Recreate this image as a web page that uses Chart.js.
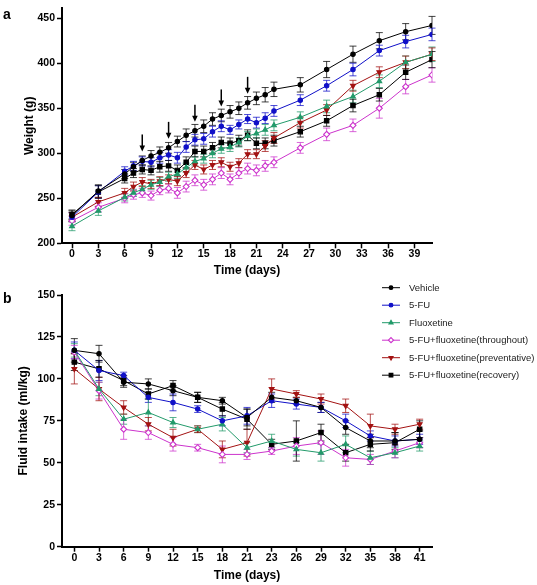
<!DOCTYPE html>
<html lang="en">
<head>
  <meta charset="UTF-8" />
  <title>Weight and fluid intake</title>
  <script src="https://cdn.jsdelivr.net/npm/chart.js"></script>
  <style>
    body {
      margin: 0;
      background: #fff;
    }

    .wrap {
      position: relative;
      width: 537px;
      height: 585px;
    }

    #weightChart { position: absolute; left: 0; top: 0; }
    #fluidChart { position: absolute; left: 0; top: 270px; }
  </style>
</head>
<body>

  <div class="wrap">
    <canvas id="weightChart" width="537" height="280"></canvas>
    <canvas id="fluidChart" width="537" height="315"></canvas>
  </div>

  <script>
    // ---- panel a: body weight (g) ----
    const weightDays = [0, 3, 6, 7, 8, 9, 10, 11, 12, 13, 14, 15, 16, 17, 18, 19, 20, 21, 22, 23, 26, 29, 32, 35, 38, 41];
    const weightDayTicks = [0, 3, 6, 9, 12, 15, 18, 21, 24, 27, 30, 33, 36, 39];
    const weightTicks = [200, 250, 300, 350, 400, 450];
    const arrowDays = [8, 11, 14, 17, 20];

    const weightVehicle      = [231, 258, 277, 285, 292, 297, 301, 306, 313, 320, 325, 330, 338, 342, 346, 350, 356, 361, 365, 371, 376, 393, 410, 425, 435, 442];
    const weightFU           = [229, 257, 280, 286, 291, 290, 295, 298, 295, 307, 315, 316, 324, 330, 326, 332, 338, 334, 339, 347, 359, 375, 393, 414, 424, 432];
    const weightFluox        = [219, 236, 251, 256, 260, 265, 268, 274, 277, 284, 291, 294, 300, 305, 307, 312, 319, 322, 326, 331, 340, 352, 363, 380, 401, 410];
    const weightThroughout   = [225, 240, 250, 254, 256, 253, 259, 261, 256, 263, 270, 265, 271, 278, 271, 278, 283, 281, 286, 290, 306, 321, 331, 350, 374, 387];
    const weightPreventative = [229, 246, 256, 263, 268, 266, 269, 271, 269, 278, 287, 282, 287, 290, 285, 289, 299, 299, 308, 317, 334, 348, 375, 390, 401, 410];
    const weightRecovery     = [232, 257, 272, 278, 282, 281, 285, 286, 281, 290, 302, 302, 306, 312, 311, 314, 320, 311, 311, 314, 324, 336, 353, 365, 390, 404];

    const weightVehicleErr      = [5, 7, 5, 5, 5, 6, 6, 6, 6, 7, 7, 7, 7, 7, 7, 7, 7, 7, 8, 8, 8, 9, 9, 9, 9, 10];
    const weightFUErr           = [5, 7, 5, 5, 5, 5, 6, 6, 6, 6, 6, 6, 6, 6, 5, 5, 5, 6, 6, 6, 6, 6, 7, 6, 7, 7];
    const weightFluoxErr        = [5, 5, 4, 4, 4, 5, 5, 5, 5, 5, 5, 5, 5, 5, 5, 5, 5, 5, 6, 6, 6, 7, 7, 7, 7, 8];
    const weightThroughoutErr   = [5, 5, 5, 5, 5, 5, 5, 5, 6, 6, 6, 6, 6, 6, 6, 6, 6, 6, 6, 6, 6, 7, 7, 11, 8, 8];
    const weightPreventativeErr = [5, 5, 5, 5, 5, 5, 5, 5, 5, 5, 5, 5, 5, 5, 5, 5, 5, 5, 6, 6, 6, 6, 6, 6, 7, 7];
    const weightRecoveryErr     = [5, 7, 5, 5, 5, 5, 6, 6, 6, 6, 6, 6, 6, 6, 6, 6, 6, 6, 6, 6, 6, 6, 7, 7, 8, 9];

    // ---- panel b: fluid intake (ml/kg) ----
    const fluidDays = ['0', '3', '6', '9', '12', '15', '18', '21', '23', '26', '29', '32', '35', '38', '41'];

    const fluidVehicle      = [117, 115, 98, 97, 93, 89, 87, 77, 89, 87, 83, 71, 63, 63, 64];
    const fluidFU           = [117, 105, 102, 89, 86, 82, 75, 78, 87, 85, 83, 75, 66, 63, 64];
    const fluidFluox        = [117, 94, 76, 80, 74, 70, 73, 59, 63, 58, 56, 61, 53, 56, 60];
    const fluidThroughout   = [116, 93, 70, 68, 61, 59, 55, 55, 57, 60, 62, 53, 52, 57, 62];
    const fluidPreventative = [106, 94, 83, 73, 65, 70, 58, 62, 94, 91, 88, 84, 72, 70, 73];
    const fluidRecovery     = [110, 106, 99, 91, 96, 89, 82, 76, 61, 63, 68, 56, 61, 62, 70];

    const fluidVehicleErr      = [7, 5, 3, 3, 3, 3, 2, 5, 3, 2, 3, 4, 4, 5, 5];
    const fluidFUErr           = [5, 6, 2, 3, 5, 2, 3, 5, 4, 3, 3, 4, 3, 3, 3];
    const fluidFluoxErr        = [4, 4, 3, 8, 3, 2, 4, 3, 4, 4, 5, 5, 4, 3, 3];
    const fluidThroughoutErr   = [4, 5, 6, 4, 4, 2, 5, 3, 2, 5, 7, 5, 3, 4, 3];
    const fluidPreventativeErr = [9, 7, 4, 4, 5, 2, 5, 8, 6, 2, 3, 4, 7, 3, 3];
    const fluidRecoveryErr     = [5, 5, 3, 3, 3, 3, 4, 6, 3, 12, 5, 5, 4, 6, 5];

    const groups = [
      { label: 'Vehicle', color: '#000000', style: 'circle', radius: 2.2, rot: 0, fill: '#000000' },
      { label: '5-FU', color: '#1010c8', style: 'circle', radius: 2.2, rot: 0, fill: '#1010c8' },
      { label: 'Fluoxetine', color: '#229a6a', style: 'triangle', radius: 2.8, rot: 0, fill: '#229a6a' },
      { label: '5-FU+fluoxetine(throughout)', color: '#cc33cc', style: 'rectRot', radius: 3, rot: 0, fill: '#ffffff' },
      { label: '5-FU+fluoxetine(preventative)', color: '#a31212', style: 'triangle', radius: 2.8, rot: 180, fill: '#a31212' },
      { label: '5-FU+fluoxetine(recovery)', color: '#000000', style: 'rect', radius: 3.1, rot: 0, fill: '#000000' }
    ];

    const FONT = "'Liberation Sans', Arial, sans-serif";

    function makeDataset(g, data, vals, errs) {
      return {
        label: g.label,
        data: data,
        vals: vals,
        errs: errs,
        borderColor: g.color,
        backgroundColor: g.fill,
        borderWidth: 1,
        tension: 0,
        pointStyle: g.style,
        pointRadius: g.radius,
        pointRotation: g.rot,
        pointBackgroundColor: g.fill,
        pointBorderColor: g.color,
        pointBorderWidth: 1.1
      };
    }

    // vertical SEM bars with caps
    const errorBars = {
      id: 'errorBars',
      beforeDatasetsDraw(chart) {
        const ctx = chart.ctx;
        const ys = chart.scales.y;
        chart.data.datasets.forEach((ds, i) => {
          const meta = chart.getDatasetMeta(i);
          ctx.save();
          ctx.strokeStyle = ds.borderColor;
          ctx.globalAlpha = 0.75;
          ctx.lineWidth = 1;
          meta.data.forEach((pt, j) => {
            const top = ys.getPixelForValue(ds.vals[j] + ds.errs[j]);
            const bot = ys.getPixelForValue(ds.vals[j] - ds.errs[j]);
            ctx.beginPath();
            ctx.moveTo(pt.x, top); ctx.lineTo(pt.x, bot);
            ctx.moveTo(pt.x - 3.5, top); ctx.lineTo(pt.x + 3.5, top);
            ctx.moveTo(pt.x - 3.5, bot); ctx.lineTo(pt.x + 3.5, bot);
            ctx.stroke();
          });
          ctx.restore();
        });
      }
    };

    function panelLetter(letter, y) {
      return {
        id: 'panel' + letter,
        afterDraw(chart) {
          const ctx = chart.ctx;
          ctx.save();
          ctx.fillStyle = '#000';
          ctx.font = 'bold 14px ' + FONT;
          ctx.textBaseline = 'alphabetic';
          ctx.fillText(letter, 3, y);
          ctx.restore();
        }
      };
    }

    // arrows above the vehicle curve
    const arrows = {
      id: 'arrows',
      afterDatasetsDraw(chart) {
        const ctx = chart.ctx;
        const xs = chart.scales.x, ys = chart.scales.y;
        ctx.save();
        ctx.strokeStyle = '#000';
        ctx.fillStyle = '#000';
        ctx.lineWidth = 1.5;
        arrowDays.forEach(d => {
          const idx = weightDays.indexOf(d);
          const x = xs.getPixelForValue(d);
          const tip = ys.getPixelForValue(weightVehicle[idx]) - 9;
          ctx.beginPath();
          ctx.moveTo(x, tip - 17);
          ctx.lineTo(x, tip - 5);
          ctx.stroke();
          ctx.beginPath();
          ctx.moveTo(x - 2.8, tip - 6);
          ctx.lineTo(x + 2.8, tip - 6);
          ctx.lineTo(x, tip);
          ctx.closePath();
          ctx.fill();
        });
        ctx.restore();
      }
    };

    const drawPoint = Chart.helpers && Chart.helpers.drawPoint;

    const legendBox = {
      id: 'legendBox',
      afterDraw(chart) {
        const ctx = chart.ctx;
        ctx.save();
        groups.forEach((g, i) => {
          const y = 17.7 + i * 17.5;
          ctx.strokeStyle = g.color;
          ctx.lineWidth = 1;
          ctx.beginPath();
          ctx.moveTo(382, y);
          ctx.lineTo(400, y);
          ctx.stroke();
          ctx.fillStyle = g.fill;
          ctx.lineWidth = 1.1;
          if (drawPoint) {
            drawPoint(ctx, { pointStyle: g.style, radius: g.radius * 0.85, rotation: g.rot, borderWidth: 1.1 }, 391, y);
          }
          ctx.fillStyle = '#222';
          ctx.font = '9.5px ' + FONT;
          ctx.textBaseline = 'middle';
          ctx.fillText(g.label, 409, y + 0.5);
        });
        ctx.restore();
      }
    };

    function axisStyle(extra) {
      return Object.assign({
        grid: { drawOnChartArea: false, drawTicks: true, tickLength: 5, tickColor: '#000', tickWidth: 1.5 },
        border: { color: '#000', width: 2 }
      }, extra);
    }

    const tickFont = { family: FONT, size: 10.5, weight: 'bold' };
    const titleFont = { family: FONT, size: 12, weight: 'bold' };

    // ---- chart a ----
    const weightSeries = [
      [weightVehicle, weightVehicleErr],
      [weightFU, weightFUErr],
      [weightFluox, weightFluoxErr],
      [weightThroughout, weightThroughoutErr],
      [weightPreventative, weightPreventativeErr],
      [weightRecovery, weightRecoveryErr]
    ];

    new Chart(document.getElementById('weightChart'), {
      type: 'line',
      data: {
        datasets: weightSeries.map((s, i) =>
          makeDataset(groups[i], weightDays.map((d, j) => ({ x: d, y: s[0][j] })), s[0], s[1]))
      },
      options: {
        responsive: false,
        animation: false,
        layout: { padding: { top: 3, right: 105, left: 0, bottom: 0 } },
        plugins: { legend: { display: false }, tooltip: { enabled: false } },
        scales: {
          x: axisStyle({
            type: 'linear',
            min: -1.14,
            max: 41,
            afterBuildTicks: s => { s.ticks = weightDayTicks.map(v => ({ value: v })); },
            afterFit: s => { s.height = 36.7; },
            ticks: { color: '#000', font: tickFont, padding: 0, autoSkip: false, maxRotation: 0 },
            title: { display: true, text: 'Time (days)', color: '#000', font: titleFont, padding: { top: 0, bottom: 2 } }
          }),
          y: axisStyle({
            min: 200,
            max: 461,
            afterBuildTicks: s => { s.ticks = weightTicks.map(v => ({ value: v })); },
            afterFit: s => { s.width = 62; },
            ticks: { color: '#000', font: tickFont, padding: 2 },
            title: { display: true, text: 'Weight (g)', color: '#000', font: titleFont, padding: { top: 22, bottom: 0 } }
          })
        }
      },
      plugins: [errorBars, arrows, panelLetter('a', 19)]
    });

    // ---- chart b ----
    const fluidSeries = [
      [fluidVehicle, fluidVehicleErr],
      [fluidFU, fluidFUErr],
      [fluidFluox, fluidFluoxErr],
      [fluidThroughout, fluidThroughoutErr],
      [fluidPreventative, fluidPreventativeErr],
      [fluidRecovery, fluidRecoveryErr]
    ];

    new Chart(document.getElementById('fluidChart'), {
      type: 'line',
      data: {
        labels: fluidDays,
        datasets: fluidSeries.map((s, i) => makeDataset(groups[i], s[0], s[0], s[1]))
      },
      options: {
        responsive: false,
        animation: false,
        layout: { padding: { top: 25, right: 105, left: 0, bottom: 0 } },
        plugins: { legend: { display: false }, tooltip: { enabled: false } },
        scales: {
          x: axisStyle({
            type: 'category',
            offset: true,
            grid: { offset: false, drawOnChartArea: false, drawTicks: true, tickLength: 5, tickColor: '#000', tickWidth: 1.5 },
            afterFit: s => { s.height = 38.3; },
            ticks: { color: '#000', font: tickFont, padding: 0, autoSkip: false, maxRotation: 0 },
            title: { display: true, text: 'Time (days)', color: '#000', font: titleFont, padding: { top: 0, bottom: 2 } }
          }),
          y: axisStyle({
            min: 0,
            max: 150,
            afterFit: s => { s.width = 62; },
            ticks: { color: '#000', font: tickFont, padding: 2, stepSize: 25 },
            title: { display: true, text: 'Fluid intake (ml/kg)', color: '#000', font: titleFont, padding: { top: 16, bottom: 0 } }
          })
        }
      },
      plugins: [errorBars, legendBox, panelLetter('b', 33)]
    });
  </script>
</body>
</html>
